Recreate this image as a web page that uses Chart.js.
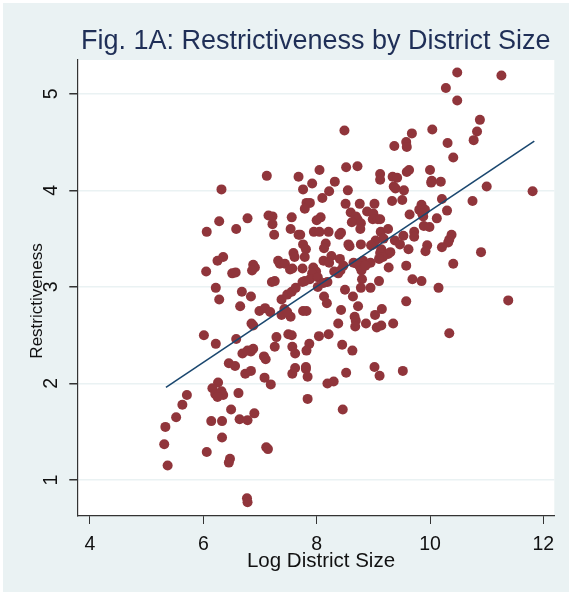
<!DOCTYPE html>
<html>
<head>
<meta charset="utf-8">
<script src="https://cdn.jsdelivr.net/npm/chart.js@4.4.1/dist/chart.umd.min.js"></script>
<style>
  html, body { margin: 0; padding: 0; background: #ffffff; }
  #wrap { position: absolute; left: 3px; top: 3px; width: 566px; height: 589px; }
</style>
</head>
<body>
<div id="wrap"><canvas id="chart" width="566" height="589"></canvas></div>
<script>
// log district size (x) and restrictiveness (y)
const logSize = [
  10.48, 11.26, 10.28, 10.48, 10.88, 10.83, 10.77, 8.49, 9.68, 10.04,
  9.58, 9.59, 9.37, 10.31, 10.41, 8.05, 8.52, 8.72, 9.12, 9.12,
  9.34, 9.42, 9.59, 9.63, 10.00, 10.02, 10.03, 10.19, 11.00, 11.81,
  7.76, 7.92, 8.32, 8.22, 8.55, 9.36, 9.39, 9.54, 8.10, 7.82,
  7.88, 7.79, 8.51, 8.76, 9.02, 9.33, 9.51, 10.21, 10.75, 9.85,
  9.81, 9.91, 9.88, 9.86, 10.30, 9.64, 10.12, 8.60, 8.89, 9.00,
  8.99, 9.08, 9.12, 8.69, 8.72, 8.62, 8.78, 8.77, 8.07, 8.00,
  7.71, 7.95, 8.05, 8.21, 8.43, 8.40, 9.13, 9.26, 9.72, 9.72,
  9.89, 9.99, 10.38, 10.34, 10.32, 9.53, 9.38, 9.47, 9.04, 9.00,
  9.18, 7.76, 7.81, 8.16, 8.13, 8.56, 8.58, 8.78, 8.96, 9.14,
  9.12, 9.26, 9.30, 9.17, 9.10, 9.62, 9.95, 9.92, 10.21, 10.90,
  7.79, 8.26, 8.12, 8.22, 8.41, 8.65, 8.71, 8.82, 8.95, 8.76,
  8.79, 8.86, 8.47, 8.42, 8.31, 8.38, 10.41, 9.58, 9.27, 7.75,
  7.94, 7.99, 7.92, 7.88, 7.79, 8.02, 8.19, 8.12, 8.80, 8.78,
  9.10, 9.69, 9.85, 10.15, 8.50, 8.95, 8.02, 11.38, 9.58, 8.64,
  8.13, 8.18, 7.76, 7.82, 8.43, 8.73, 8.67, 8.69, 8.68, 9.03,
  9.15, 8.38, 8.87, 9.06, 9.14, 9.35, 10.34, 7.87, 7.82, 8.04,
  8.21, 8.45, 8.63, 7.81, 7.81, 7.84, 8.19, 8.30, 8.52, 9.02,
  9.11, 9.52, 7.84, 8.46, 6.22, 6.28, 6.68, 6.84, 6.65, 7.21,
  7.26, 7.38, 7.48, 7.56, 7.63, 6.99, 7.09, 7.18, 7.43, 7.38,
  7.54, 7.48, 7.75, 6.85, 6.88, 6.01, 6.22, 6.58, 7.29, 7.50,
  7.56, 7.26, 7.57, 7.62, 6.69, 6.78, 6.84, 6.88, 7.07, 7.10,
  6.45, 6.56, 6.74, 6.84, 7.08, 7.19, 7.57, 7.62, 6.26, 6.16,
  6.21, 6.32, 6.35, 6.25, 5.71, 5.63, 5.52, 5.33, 5.31, 5.37,
  6.62, 6.49, 6.14, 6.33, 6.64, 6.78, 6.90, 6.33, 6.06, 6.47,
  6.45, 7.11, 7.14, 6.77, 6.78, 7.12, 7.68, 6.32, 7.15, 7.22,
  7.22, 7.56, 6.78, 6.28, 6.06, 6.58, 7.25, 7.54, 7.68, 7.59,
  7.61, 6.35, 6.25, 6.88, 6.91, 6.86, 7.32, 7.35, 7.44, 7.53,
  7.57, 6.05, 6.51, 6.57
];
const restrictiveness = [
  5.22, 5.19, 5.06, 4.93, 4.73, 4.61, 4.52, 4.62, 4.59, 4.63,
  4.50, 4.45, 4.46, 4.49, 4.34, 4.21, 4.24, 4.25, 4.17, 4.11,
  4.14, 4.13, 4.19, 4.21, 4.21, 4.08, 4.10, 4.09, 4.04, 3.99,
  4.01, 4.07, 4.09, 3.99, 4.00, 4.04, 4.02, 4.00, 3.92, 3.87,
  3.87, 3.81, 3.86, 3.86, 3.86, 3.89, 3.90, 3.91, 3.89, 3.85,
  3.80, 3.80, 3.73, 3.76, 3.79, 3.75, 3.71, 3.77, 3.78, 3.76,
  3.70, 3.70, 3.70, 3.73, 3.70, 3.67, 3.66, 3.60, 3.72, 3.69,
  3.54, 3.57, 3.57, 3.57, 3.56, 3.54, 3.57, 3.60, 3.57, 3.52,
  3.63, 3.62, 3.54, 3.49, 3.46, 3.53, 3.48, 3.44, 3.48, 3.44,
  3.50, 3.44, 3.39, 3.45, 3.40, 3.44, 3.42, 3.44, 3.43, 3.39,
  3.35, 3.34, 3.36, 3.31, 3.29, 3.39, 3.43, 3.37, 3.41, 3.36,
  3.31, 3.32, 3.27, 3.25, 3.29, 3.25, 3.24, 3.27, 3.25, 3.21,
  3.17, 3.22, 3.22, 3.17, 3.16, 3.14, 3.24, 3.22, 3.20, 3.19,
  3.20, 3.16, 3.14, 3.08, 3.06, 3.10, 3.05, 3.04, 3.08, 2.99,
  3.06, 3.08, 3.06, 2.99, 2.97, 2.99, 3.00, 2.86, 2.85, 2.90,
  2.90, 2.83, 2.75, 2.75, 2.76, 2.80, 2.69, 2.65, 2.59, 2.71,
  2.77, 2.62, 2.62, 2.58, 2.60, 2.62, 2.52, 2.41, 2.34, 2.49,
  2.51, 2.40, 2.34, 2.17, 2.15, 2.07, 2.00, 2.02, 2.11, 2.17,
  2.08, 2.13, 1.84, 1.73, 2.99, 2.87, 2.95, 2.90, 2.80, 3.05,
  3.06, 2.87, 2.92, 2.95, 2.99, 2.75, 2.78, 2.74, 2.77, 2.71,
  2.69, 2.74, 3.05, 2.62, 2.60, 2.50, 2.41, 2.46, 2.48, 2.51,
  2.50, 2.38, 2.38, 2.31, 2.31, 2.34, 2.33, 2.36, 2.28, 2.25,
  2.21, 2.18, 2.10, 2.13, 2.06, 1.99, 2.10, 2.16, 2.01, 1.95,
  1.89, 1.92, 1.88, 1.86, 1.88, 1.78, 1.65, 1.55, 1.37, 1.15,
  1.90, 1.73, 1.61, 1.61, 1.63, 1.62, 1.69, 1.44, 1.29, 1.22,
  1.18, 1.34, 1.32, 0.81, 0.77, 4.15, 4.14, 4.01, 3.74, 3.73,
  3.65, 3.72, 3.71, 3.68, 3.57, 3.60, 3.54, 3.60, 3.54, 3.35,
  3.31, 3.31, 3.27, 3.23, 3.20, 3.17, 3.27, 3.24, 3.24, 3.18,
  3.19, 3.16, 3.14, 3.15
];

// fitted line end points
const fitX = [5.34, 11.84];
const fitY = [1.96, 4.51];

const xTicks = [4, 6, 8, 10, 12];
const yTicks = [1, 2, 3, 4, 5];

const xTitle = "Log District Size";
const yTitle = "Restrictiveness";

const points = logSize.map((x, i) => ({ x: x, y: restrictiveness[i] }));
const fitLine = fitX.map((x, i) => ({ x: x, y: fitY[i] }));

const FONT = "'Liberation Sans', Arial, sans-serif";
const bgColor = "#eaf2f3";

const backdrop = {
    id: "backdrop",
    beforeDraw(chart) {
        const { ctx, chartArea } = chart;
        ctx.save();
        ctx.fillStyle = bgColor;
        ctx.fillRect(0, 0, chart.width, chart.height);
        ctx.fillStyle = "#ffffff";
        ctx.fillRect(chartArea.left, chartArea.top, chartArea.right - chartArea.left, chartArea.bottom - chartArea.top);
        ctx.restore();
    }
};

// axis titles, placed a little off-centre like the stata export
const axisTitles = {
    id: "axisTitles",
    afterDraw(chart) {
        const { ctx } = chart;
        ctx.save();
        ctx.fillStyle = "#111111";
        ctx.textAlign = "center";
        ctx.textBaseline = "middle";
        ctx.font = "20.5px " + FONT;
        ctx.fillText(xTitle, 318, 558);
        ctx.font = "17px " + FONT;
        ctx.translate(34, 298);
        ctx.rotate(-Math.PI / 2);
        ctx.fillText(yTitle, 0, 0);
        ctx.restore();
    }
};

new Chart(document.getElementById("chart"), {
    type: "scatter",
    data: {
        datasets: [
            {
                type: "line",
                data: fitLine,
                borderColor: "#1a476f",
                borderWidth: 1.6,
                pointRadius: 0,
                fill: false,
                order: 0
            },
            {
                data: points,
                backgroundColor: "#90353b",
                borderWidth: 0,
                pointRadius: 5,
                pointHoverRadius: 5,
                order: 1
            }
        ]
    },
    options: {
        responsive: false,
        animation: false,
        devicePixelRatio: 1,
        layout: { padding: { left: 0, right: 14.7, top: 0, bottom: 0 } },
        plugins: {
            legend: { display: false },
            tooltip: { enabled: false },
            title: {
                display: true,
                text: "Fig. 1A: Restrictiveness by District Size",
                color: "#1f2f57",
                fullSize: false,
                font: { family: FONT, size: 27, weight: "normal" },
                padding: { top: 22.5, bottom: 2.1 }
            }
        },
        scales: {
            x: {
                type: "linear",
                min: 3.776,
                max: 12.193,
                afterBuildTicks(scale) { scale.ticks = xTicks.map(v => ({ value: v })); },
                afterFit(scale) { scale.height = 76; },
                grid: { drawOnChartArea: false, drawTicks: true, tickLength: 8, tickColor: "#333333", lineWidth: 1 },
                border: { display: true, color: "#333333", width: 1.2 },
                ticks: { color: "#111111", font: { family: FONT, size: 19.5 }, padding: 9, maxRotation: 0 },
                title: { display: false }
            },
            y: {
                type: "linear",
                min: 0.627,
                max: 5.35,
                afterBuildTicks(scale) { scale.ticks = yTicks.map(v => ({ value: v })); },
                afterFit(scale) { scale.width = 74.3; },
                grid: { color: bgColor, lineWidth: 1.5, drawTicks: true, tickLength: 8, tickColor: "#333333" },
                border: { display: true, color: "#333333", width: 1.2 },
                ticks: { color: "#111111", font: { family: FONT, size: 19.5 }, padding: 12, minRotation: 90, maxRotation: 90, crossAlign: "center" },
                title: { display: false }
            }
        }
    },
    plugins: [backdrop, axisTitles]
});
</script>
</body>
</html>
